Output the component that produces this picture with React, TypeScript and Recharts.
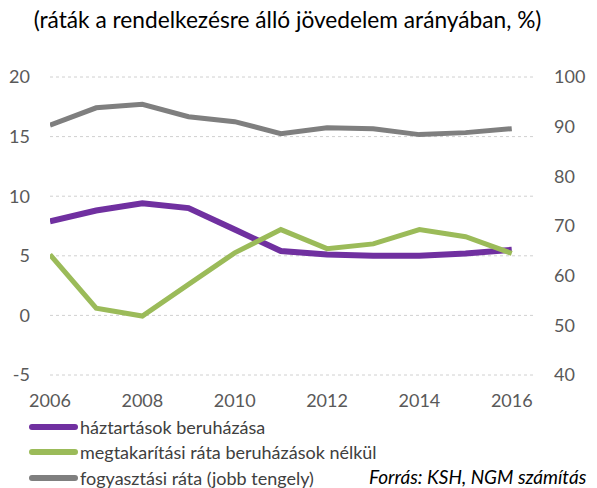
import { LineChart, Line, XAxis, YAxis, CartesianGrid } from "recharts";

const years = [2006, 2007, 2008, 2009, 2010, 2011, 2012, 2013, 2014, 2015, 2016];
const beruhazas = [7.9, 8.8, 9.4, 9.0, 7.2, 5.4, 5.1, 5.0, 5.0, 5.2, 5.5];
const megtakaritas = [5.1, 0.6, -0.05, 2.6, 5.25, 7.2, 5.6, 6.0, 7.2, 6.6, 5.2];
const fogyasztas = [90.3, 93.8, 94.5, 92.0, 91.0, 88.6, 89.8, 89.6, 88.4, 88.8, 89.6];

const xTicks = [2006, 2008, 2010, 2012, 2014, 2016];
const leftTicks = [-5, 0, 5, 10, 15, 20];
const rightTicks = [40, 50, 60, 70, 80, 90, 100];

const seriesNames = [
  "háztartások beruházása",
  "megtakarítási ráta beruházások nélkül",
  "fogyasztási ráta (jobb tengely)",
];
const colors = ["#7030A0", "#9BBB59", "#7F7F7F"];

const data = years.map((y, i) => ({
  year: y,
  a: beruhazas[i],
  b: megtakaritas[i],
  c: fogyasztas[i],
}));

const font = "Lato, 'Open Sans', sans-serif";
const tick = { fill: "#595959", fontSize: 18, fontFamily: font };

export default function App() {
  return (
    <div style={{ position: "absolute", left: 0, top: 0, width: 597, height: 488, background: "#fff" }}>
      <div
        style={{
          position: "absolute",
          top: 6,
          left: 0,
          width: 575,
          textAlign: "center",
          fontFamily: font,
          fontSize: 22.7,
          color: "#000",
        }}
      >
        (ráták a rendelkezésre álló jövedelem arányában, %)
      </div>
      <LineChart width={597} height={488} data={data} margin={{ top: 77, right: 0, bottom: 83, left: 0 }}>
        <CartesianGrid vertical={false} yAxisId="left" stroke="#d0d0d0" strokeDasharray="3 3" />
        <XAxis
          dataKey="year"
          type="number"
          domain={[2006, 2016.46]}
          ticks={xTicks}
          allowDataOverflow
          axisLine={false}
          tickLine={false}
          tickSize={0}
          tickMargin={19}
          tick={tick}
          height={30}
        />
        <YAxis
          yAxisId="left"
          domain={[-5, 20]}
          ticks={leftTicks}
          axisLine={false}
          tickLine={false}
          tickSize={0}
          tickMargin={20}
          tick={tick}
          width={50}
        />
        <YAxis
          yAxisId="right"
          orientation="right"
          domain={[40, 100]}
          ticks={rightTicks}
          axisLine={false}
          tickLine={false}
          tickSize={0}
          tickMargin={21}
          tick={{ ...tick, textAnchor: "start" }}
          width={64}
        />
        <Line yAxisId="left" dataKey="a" name={seriesNames[0]} stroke={colors[0]} strokeWidth={6} dot={false} isAnimationActive={false} />
        <Line yAxisId="left" dataKey="b" name={seriesNames[1]} stroke={colors[1]} strokeWidth={5} dot={false} isAnimationActive={false} />
        <Line yAxisId="right" dataKey="c" name={seriesNames[2]} stroke={colors[2]} strokeWidth={5} dot={false} isAnimationActive={false} />
      </LineChart>
      <div style={{ position: "absolute", left: 29, top: 414, fontFamily: font, fontSize: 18, color: "#404040" }}>
        {seriesNames.map((n, i) => (
          <div key={n} style={{ display: "flex", alignItems: "center", height: 25.5, whiteSpace: "nowrap" }}>
            <div style={{ width: 49, height: 6, borderRadius: 3, background: colors[i], marginRight: 2 }} />
            <span>{n}</span>
          </div>
        ))}
      </div>
      <div
        style={{
          position: "absolute",
          left: 369,
          top: 465,
          fontFamily: font,
          fontSize: 19,
          fontStyle: "italic",
          color: "#000",
          whiteSpace: "nowrap",
        }}
      >
        Forrás: KSH, NGM számítás
      </div>
    </div>
  );
}
